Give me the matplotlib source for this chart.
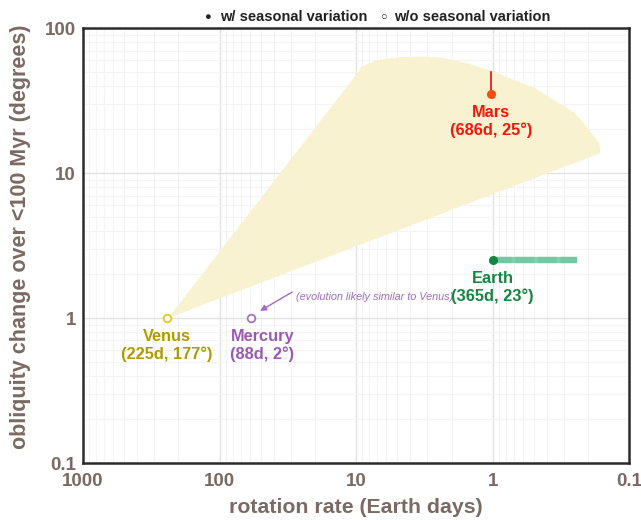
import matplotlib.pyplot as plt
from matplotlib.ticker import FixedLocator, FixedFormatter, LogLocator, NullFormatter

plt.rcParams["font.family"] = ["Liberation Sans", "DejaVu Sans"]

# planets: rotation period (days), obliquity change (degrees)
planets = ["Venus", "Mercury", "Earth", "Mars"]
rotation = [243, 58.6, 1.0, 1.03]
obliquity = [1.0, 1.0, 2.5, 35]
labels = ["Venus\n(225d, 177°)", "Mercury\n(88d, 2°)", "Earth\n(365d, 23°)", "Mars\n(686d, 25°)"]
seasonal = [False, False, True, True]

# Mars upper extent and Earth rotation range
mars_top = 50
earth_rot_range = [1.0, 0.24]

# shaded region (Venus-like evolution envelope)
region_x = [237, 9.66, 9.19, 7.13, 4.67, 3.33, 2.37, 1.55, 0.966, 0.491, 0.249, 0.178, 0.166, 0.163, 0.163]
region_y = [1.0, 49.7, 53.8, 60.1, 63.1, 63.6, 62.6, 57.4, 49.7, 38.6, 25.9, 17.7, 16.1, 14.4, 13.7]

xticks = [1000, 100, 10, 1, 0.1]
xticklabels = ["1000", "100", "10", "1", "0.1"]
yticks = [0.1, 1, 10, 100]
yticklabels = ["0.1", "1", "10", "100"]

text_colors = {"Venus": "#b09a00", "Mercury": "#9b59b6", "Earth": "#13863f", "Mars": "#f5160a"}
marker_colors = {"Venus": "#e3cd10", "Mercury": "#a673bd", "Earth": "#13863f", "Mars": "#ff4a12"}
label_gray = "#7b6a63"

fig = plt.figure(figsize=(6.41, 5.20), dpi=100)
ax = fig.add_axes([0.1295, 0.1096, 0.852, 0.8364])
ax.set_xscale("log")
ax.set_yscale("log")
ax.set_xlim(1000, 0.1)
ax.set_ylim(0.1, 100)

ax.fill(region_x, region_y, color="#f8f2d0", lw=0, zorder=1)

# Earth range bar
ax.plot(earth_rot_range, [obliquity[2]] * 2, color="#80d0ad", lw=4.5, solid_capstyle="butt", zorder=2)
ax.plot(earth_rot_range, [obliquity[2]] * 2, color="#74c9a4", lw=4.5, ls=(0, (3, 0.6)), zorder=2)
# Mars vertical extent
ax.plot([rotation[3]] * 2, [obliquity[3], mars_top], color="#e01010", lw=1.2, zorder=2)

offsets = {"Venus": (0, -8), "Mercury": (8, -8), "Earth": (0, -8), "Mars": (0, -8)}
for name, x, y, lab, s in zip(planets, rotation, obliquity, labels, seasonal):
    if s:
        ax.plot(x, y, "o", ms=5.5, color=marker_colors[name], zorder=4)
    else:
        ax.plot(x, y, "o", ms=5.5, mfc="white", mec=marker_colors[name], mew=1.3, zorder=4)
    ax.annotate(lab, (x, y), xytext=offsets[name], textcoords="offset points",
                ha="center", va="top", fontsize=11.8, fontweight="bold",
                color=text_colors[name], linespacing=1.15, zorder=5)

ax.text(27.5, 1.40, "(evolution likely similar to Venus)", fontsize=7.8, style="italic",
        color="#a46bc0", va="center", ha="left")
ax.annotate("", xy=(50.5, 1.12), xytext=(29.4, 1.51),
            arrowprops=dict(arrowstyle="-|>", color="#a46bc0", lw=1.0, mutation_scale=9,
                            shrinkA=0, shrinkB=0))

ax.xaxis.set_major_locator(FixedLocator(xticks))
ax.xaxis.set_major_formatter(FixedFormatter(xticklabels))
ax.yaxis.set_major_locator(FixedLocator(yticks))
ax.yaxis.set_major_formatter(FixedFormatter(yticklabels))
for axis in (ax.xaxis, ax.yaxis):
    axis.set_minor_locator(LogLocator(base=10, subs=range(2, 10)))
    axis.set_minor_formatter(NullFormatter())

ax.grid(which="major", color="#e2e2e2", lw=1.0, zorder=0)
ax.grid(which="minor", color="#f4f4f4", lw=0.8, zorder=0)
ax.set_axisbelow(True)
ax.tick_params(which="both", length=0, labelsize=13.5, labelcolor=label_gray)
ax.tick_params(axis="x", pad=7)
ax.tick_params(axis="y", pad=5)
for lab in ax.get_xticklabels() + ax.get_yticklabels():
    lab.set_fontweight("bold")
for sp in ax.spines.values():
    sp.set_color("#2b2b2b")
    sp.set_linewidth(1.8)

ax.set_xlabel("rotation rate (Earth days)", fontsize=15.3, fontweight="bold", color=label_gray, labelpad=6)
ax.set_ylabel("obliquity change over <100 Myr (degrees)", fontsize=15.5, fontweight="bold",
              color=label_gray)
ax.yaxis.set_label_coords(-0.096, 0.52)

# legend line at top
fig.text(0.323, 0.968, "●", fontsize=8, color="#222222", ha="center", va="center")
fig.text(0.343, 0.968, "w/ seasonal variation", fontsize=10.5, fontweight="bold", color="#222222",
         ha="left", va="center")
fig.text(0.599, 0.968, "○", fontsize=8, color="#222222", ha="center", va="center")
fig.text(0.615, 0.968, "w/o seasonal variation", fontsize=10.5, fontweight="bold", color="#222222",
         ha="left", va="center")

fig.savefig("out.png", dpi=100)
